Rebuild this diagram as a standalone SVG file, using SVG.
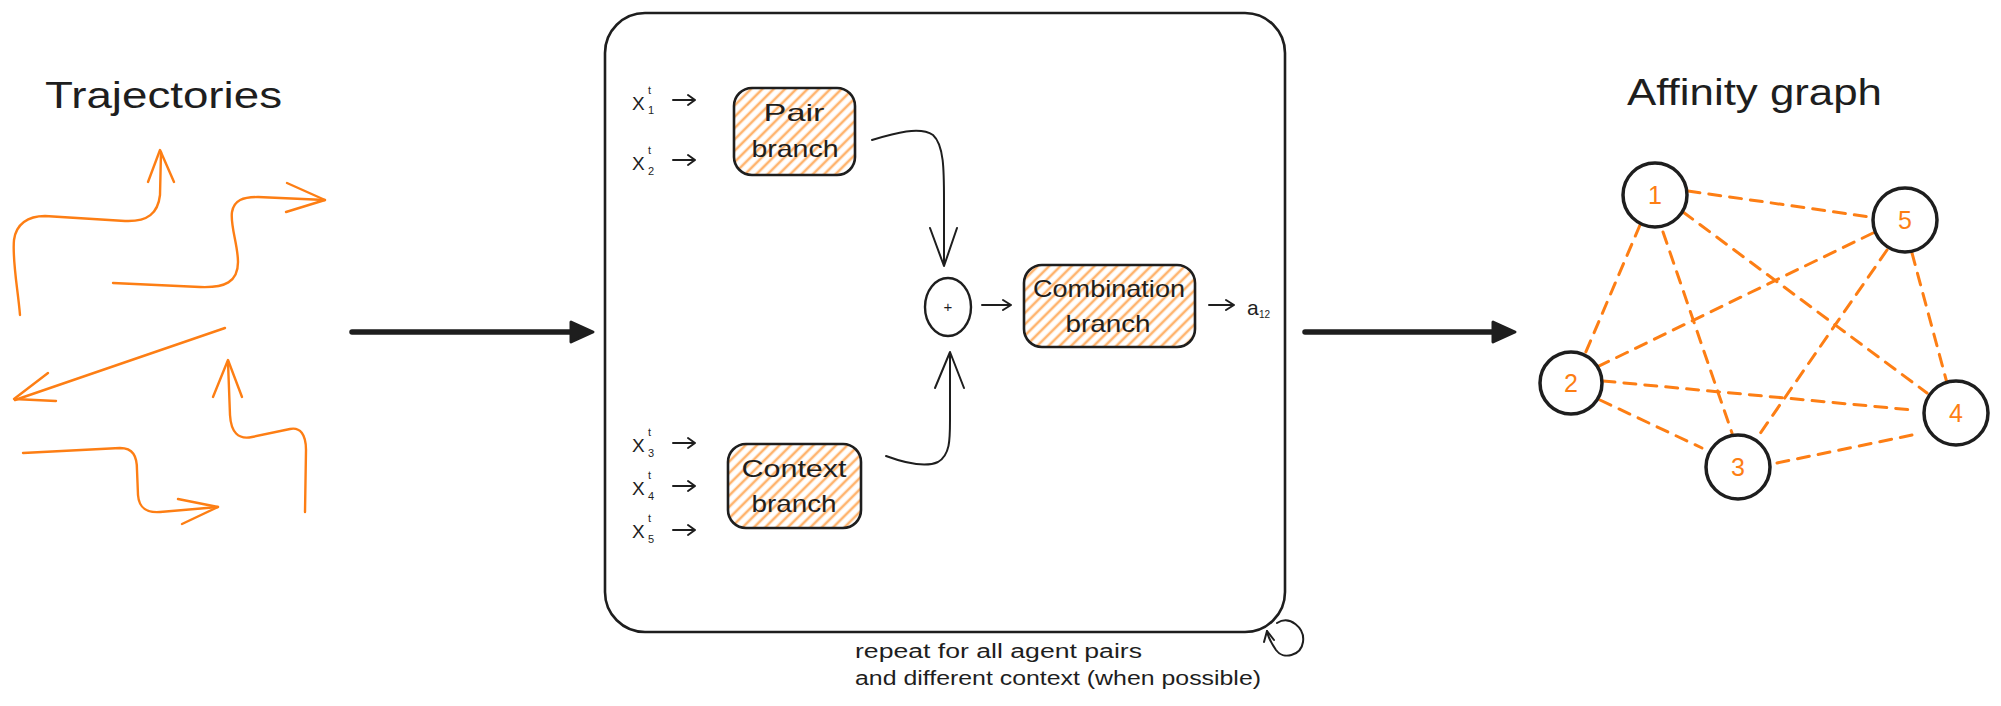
<svg xmlns="http://www.w3.org/2000/svg" width="2001" height="706" viewBox="0 0 2001 706">
<defs>
<pattern id="hatch" patternUnits="userSpaceOnUse" width="8" height="8" patternTransform="rotate(45)">
<rect width="8" height="8" fill="#ffffff"/>
<line x1="2" y1="0" x2="2" y2="8" stroke="#ffb46e" stroke-width="2.6"/>
</pattern>
<style>
.t{font-family:"Liberation Sans",Arial,sans-serif;fill:#1e1e1e}
.o{font-family:"Liberation Sans",Arial,sans-serif;fill:#fd7e14}
.traj{fill:none;stroke:#fd7e14;stroke-width:2.4;stroke-linecap:round;stroke-linejoin:round}
.ln{fill:none;stroke:#1e1e1e;stroke-width:2;stroke-linecap:round;stroke-linejoin:round}
.thick{fill:none;stroke:#1e1e1e;stroke-width:5.5;stroke-linecap:round}
.head{fill:#1e1e1e;stroke:#1e1e1e;stroke-width:3;stroke-linejoin:round}
.box{fill:url(#hatch);stroke:#1e1e1e;stroke-width:2.6}
.edge{fill:none;stroke:#fd7e14;stroke-width:3;stroke-dasharray:12 9;stroke-linecap:round}
.node{fill:#ffffff;stroke:#1e1e1e;stroke-width:3.5}
</style>
</defs>
<rect width="2001" height="706" fill="#ffffff"/>

<g id="trajectories">
<text class="t" x="45" y="108" font-size="36" textLength="237" lengthAdjust="spacingAndGlyphs">Trajectories</text>
<path class="traj" d="M20,315 C18,290 12,260 14,240 C16,224 28,216 45,216 L125,221 C148,222 158,213 160,195 L161,152"/>
<polyline class="traj" points="148,182 160,150 174,182"/>
<path class="traj" d="M113,283 L200,287 C225,288 238,282 238,262 C238,245 230,225 232,212 C234,200 243,197 258,197 L325,200"/>
<polyline class="traj" points="287,183 325,200 286,212"/>
<path class="traj" d="M225,328 L15,400"/>
<polyline class="traj" points="48,373 14,399 56,401"/>
<path class="traj" d="M23,453 L120,448 C133,448 137,456 137,470 L138,495 C139,508 146,513 160,512 L218,507"/>
<polyline class="traj" points="178,499 218,507 182,524"/>
<path class="traj" d="M305,512 L306,450 C306,434 300,427 290,429 L252,437 C238,440 231,432 230,415 L228,362"/>
<polyline class="traj" points="213,397 228,360 242,397"/>
</g>

<g id="model-box">
<rect x="605" y="13" width="680" height="619" rx="40" fill="none" stroke="#1e1e1e" stroke-width="2.6"/>
<text class="t" x="855" y="658" font-size="20" textLength="287" lengthAdjust="spacingAndGlyphs">repeat for all agent pairs</text>
<text class="t" x="855" y="685" font-size="20" textLength="406" lengthAdjust="spacingAndGlyphs">and different context (when possible)</text>
</g>

<g id="inputs">
<text class="t" x="632" y="110" font-size="19">X</text><text class="t" x="648" y="94" font-size="11">t</text><text class="t" x="648" y="114" font-size="11">1</text>
<text class="t" x="632" y="170" font-size="19">X</text><text class="t" x="648" y="154" font-size="11">t</text><text class="t" x="648" y="175" font-size="11">2</text>
<text class="t" x="632" y="452" font-size="19">X</text><text class="t" x="648" y="436" font-size="11">t</text><text class="t" x="648" y="457" font-size="11">3</text>
<text class="t" x="632" y="495" font-size="19">X</text><text class="t" x="648" y="479" font-size="11">t</text><text class="t" x="648" y="500" font-size="11">4</text>
<text class="t" x="632" y="538" font-size="19">X</text><text class="t" x="648" y="522" font-size="11">t</text><text class="t" x="648" y="543" font-size="11">5</text>
</g>

<g id="pair-branch">
<rect class="box" x="734" y="88" width="121" height="87" rx="18"/>
<text class="t" x="794" y="121" font-size="24" text-anchor="middle" textLength="61" lengthAdjust="spacingAndGlyphs">Pair</text>
<text class="t" x="795" y="157" font-size="24" text-anchor="middle" textLength="87" lengthAdjust="spacingAndGlyphs">branch</text>
</g>

<g id="context-branch">
<rect class="box" x="728" y="444" width="133" height="84" rx="18"/>
<text class="t" x="794" y="477" font-size="24" text-anchor="middle" textLength="105" lengthAdjust="spacingAndGlyphs">Context</text>
<text class="t" x="794" y="512" font-size="24" text-anchor="middle" textLength="85" lengthAdjust="spacingAndGlyphs">branch</text>
</g>

<g id="sum">
<ellipse cx="948" cy="307" rx="23" ry="29" fill="none" stroke="#1e1e1e" stroke-width="2.4"/>
<text class="t" x="948" y="312" font-size="15" text-anchor="middle">+</text>
</g>

<g id="combination-branch">
<rect class="box" x="1024" y="265" width="171" height="82" rx="18"/>
<text class="t" x="1109" y="297" font-size="24" text-anchor="middle" textLength="152" lengthAdjust="spacingAndGlyphs">Combination</text>
<text class="t" x="1108" y="332" font-size="24" text-anchor="middle" textLength="85" lengthAdjust="spacingAndGlyphs">branch</text>
</g>

<g id="output-a12">
<text class="t" x="1247" y="315" font-size="21">a</text><text class="t" x="1259" y="318" font-size="10">12</text>
</g>

<g id="affinity-graph">
<text class="t" x="1627" y="105" font-size="36" textLength="255" lengthAdjust="spacingAndGlyphs">Affinity graph</text>
<g id="edges">
<line class="edge" x1="1688" y1="191" x2="1870" y2="217"/>
<line class="edge" x1="1640" y1="225" x2="1585" y2="354"/>
<line class="edge" x1="1663" y1="232" x2="1732" y2="433"/>
<line class="edge" x1="1683" y1="212" x2="1927" y2="393"/>
<line class="edge" x1="1873" y1="233" x2="1597" y2="367"/>
<line class="edge" x1="1887" y1="250" x2="1757" y2="438"/>
<line class="edge" x1="1912" y1="253" x2="1947" y2="383"/>
<line class="edge" x1="1603" y1="381" x2="1913" y2="410"/>
<line class="edge" x1="1600" y1="400" x2="1702" y2="448"/>
<line class="edge" x1="1777" y1="463" x2="1912" y2="435"/>
</g>
<g id="node-1"><circle class="node" cx="1655" cy="195" r="32"/><text class="o" x="1655" y="204" font-size="25" text-anchor="middle">1</text></g>
<g id="node-2"><circle class="node" cx="1571" cy="383" r="31"/><text class="o" x="1571" y="392" font-size="25" text-anchor="middle">2</text></g>
<g id="node-3"><circle class="node" cx="1738" cy="467" r="32"/><text class="o" x="1738" y="476" font-size="25" text-anchor="middle">3</text></g>
<g id="node-4"><circle class="node" cx="1956" cy="413" r="32"/><text class="o" x="1956" y="422" font-size="25" text-anchor="middle">4</text></g>
<g id="node-5"><circle class="node" cx="1905" cy="220" r="32"/><text class="o" x="1905" y="229" font-size="25" text-anchor="middle">5</text></g>
</g>

<g id="connectors">
<line class="thick" x1="352" y1="332" x2="575" y2="332"/>
<polygon class="head" points="571,322 593,332 571,342"/>
<line class="thick" x1="1305" y1="332" x2="1496" y2="332"/>
<polygon class="head" points="1493,322 1515,332 1493,342"/>
<path class="ln" d="M673,100 L695,100 M688,95 L695,100 L688,105"/>
<path class="ln" d="M673,160 L695,160 M688,155 L695,160 L688,165"/>
<path class="ln" d="M673,443 L695,443 M688,438 L695,443 L688,448"/>
<path class="ln" d="M673,486 L695,486 M688,481 L695,486 L688,491"/>
<path class="ln" d="M673,530 L695,530 M688,525 L695,530 L688,535"/>
<path class="ln" d="M872,140 C895,133 920,126 933,135 C944,145 944,170 944,200 L944,265"/>
<polyline class="ln" points="930,228 944,266 957,228"/>
<path class="ln" d="M886,456 C905,463 925,468 938,462 C950,455 950,440 950,420 L950,353"/>
<polyline class="ln" points="935,388 950,352 964,388"/>
<path class="ln" d="M982,305 L1011,305 M1003,300 L1011,305 L1003,310"/>
<path class="ln" d="M1209,305 L1234,305 M1226,300 L1234,305 L1226,310"/>
<path class="ln" d="M1277,623 C1290,615 1305,628 1303,642 C1301,656 1283,660 1276,650 C1272,644 1268,638 1267,631"/>
<polyline class="ln" points="1264,642 1267,631 1274,640"/>
</g>
</svg>
